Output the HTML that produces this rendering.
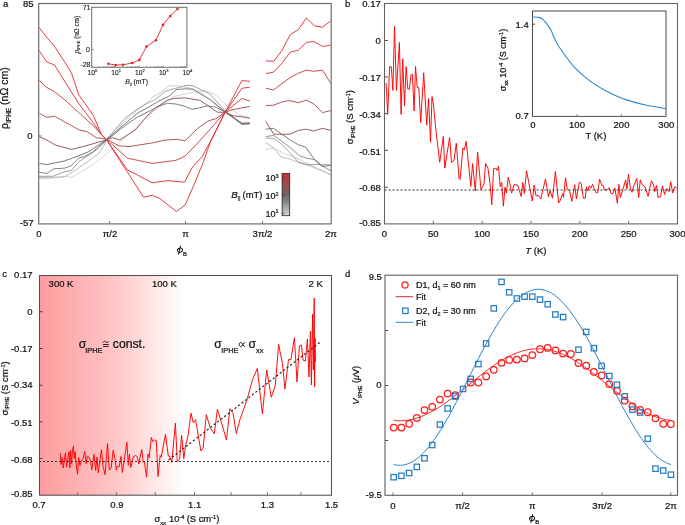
<!DOCTYPE html>
<html><head><meta charset="utf-8"><style>
html,body{margin:0;padding:0;background:#fff;}
body{width:685px;height:525px;overflow:hidden;}
svg{display:block;font-family:"Liberation Sans", sans-serif;}
text{stroke:#111;stroke-width:0.22px;}
.sm text{stroke-width:0.1px;}
#w{will-change:transform;width:685px;height:525px;}
</style></head><body><div id="w">
<svg width="685" height="525" viewBox="0 0 685 525" font-family='"Liberation Sans", sans-serif'>
<defs>
<linearGradient id="cb" x1="0" y1="1" x2="0" y2="0"><stop offset="0" stop-color="#d6d6d6"/><stop offset="0.38" stop-color="#7a7a7a"/><stop offset="0.55" stop-color="#7a5e5e"/><stop offset="1" stop-color="#cc3034"/></linearGradient>
<linearGradient id="pc" gradientUnits="userSpaceOnUse" x1="39" y1="0" x2="184.5" y2="0"><stop offset="0" stop-color="#ff9c9e"/><stop offset="0.5" stop-color="#ffc4c4"/><stop offset="1" stop-color="#ffffff"/></linearGradient>
</defs>
<rect width="685" height="525" fill="#fff"/>
<polyline points="39.0,178.8 49.6,178.5 64.2,176.3 71.5,177.4 86.0,169.0 100.7,158.8 110.9,150.0 137.2,127.0 149.5,114.7 161.9,104.8 174.3,96.1 185.0,94.0 193.8,92.3 202.5,91.0 208.4,91.1 217.1,96.0 227.0,105.9 239.4,115.2 249.9,117.1" fill="none" stroke="#cbcbcb" stroke-width="0.8" stroke-linejoin="round" />
<polyline points="106.0,140.0 112.4,134.5 124.8,120.9 135.9,111.0 144.6,104.8 153.2,96.7 160.7,92.4 168.4,86.1 176.3,85.7 183.3,86.6 192.9,89.0 201.0,93.0 212.2,101.0 225.2,111.5 241.9,122.5 249.9,122.0" fill="none" stroke="#bdbdbd" stroke-width="0.8" stroke-linejoin="round" />
<polyline points="39.0,177.4 64.2,177.0 73.0,171.9 86.0,163.0 99.2,153.0 106.0,142.0" fill="none" stroke="#a8a8a8" stroke-width="0.8" stroke-linejoin="round" />
<polyline points="39.0,176.3 52.5,176.3 64.2,171.9 71.5,170.4 78.8,161.7 96.3,150.0 106.0,141.0" fill="none" stroke="#8a8a8a" stroke-width="0.8" stroke-linejoin="round" />
<polyline points="39.0,172.2 46.7,173.4 54.0,168.7 64.2,168.2 70.8,166.0 78.8,158.0 84.6,156.6 93.4,151.5 106.0,140.0" fill="none" stroke="#6a6a6a" stroke-width="0.8" stroke-linejoin="round" />
<polyline points="39.4,163.4 46.7,164.6 64.2,161.0 78.8,155.8 89.0,151.5 106.0,140.0" fill="none" stroke="#555555" stroke-width="0.8" stroke-linejoin="round" />
<polyline points="106.0,140.0 124.8,118.4 137.2,109.1 145.8,104.1 155.7,99.2 164.4,91.8 169.3,89.9 182.4,86.6 186.8,85.3 192.9,85.7 199.0,88.8 210.0,94.0 225.2,111.0 241.9,124.5 249.9,124.0" fill="none" stroke="#8c8c8c" stroke-width="0.8" stroke-linejoin="round" />
<polyline points="106.0,140.0 137.2,113.4 149.5,106.6 158.8,101.0 168.4,96.6 176.3,89.6 185.0,88.8 192.9,89.2 199.0,93.1 210.0,99.7 225.2,112.0 241.9,123.5 249.9,123.0" fill="none" stroke="#5c5c5c" stroke-width="0.8" stroke-linejoin="round" />
<polyline points="106.0,140.0 112.4,135.7 124.8,125.8 137.2,117.2 149.5,111.0 159.4,106.0 167.5,103.2 176.3,104.1 185.0,106.3 192.0,109.3 199.0,108.0 207.2,105.9 215.9,107.2 225.2,112.1 241.9,124.0 249.9,123.5" fill="none" stroke="#606060" stroke-width="0.8" stroke-linejoin="round" />
<polyline points="265.9,149.4 273.6,147.8 282.2,152.7 298.3,158.9 310.7,165.1 321.9,170.7 330.8,175.0" fill="none" stroke="#c8c8c8" stroke-width="0.8" stroke-linejoin="round" />
<polyline points="265.9,142.8 273.6,147.8 281.0,157.0 289.7,158.9 298.3,162.6 310.7,166.3 321.9,170.7 330.8,174.4" fill="none" stroke="#acacac" stroke-width="0.8" stroke-linejoin="round" />
<polyline points="265.9,138.2 273.6,138.5 282.2,144.7 290.0,153.0 298.3,162.0 307.0,164.5 321.9,164.5 330.8,165.1" fill="none" stroke="#8e8e8e" stroke-width="0.8" stroke-linejoin="round" />
<polyline points="265.9,136.6 273.6,135.4 281.5,141.0 289.7,147.2 299.6,155.8 307.0,158.3 314.4,159.5 321.9,165.7 330.8,170.7" fill="none" stroke="#747474" stroke-width="0.8" stroke-linejoin="round" />
<polyline points="265.9,129.2 273.6,128.3 281.5,134.0 289.7,139.7 298.3,144.7 305.8,147.2 314.4,159.5 321.9,166.3 330.8,165.5" fill="none" stroke="#585858" stroke-width="0.8" stroke-linejoin="round" />
<polyline points="39.4,137.0 45.2,139.2 55.4,145.0 71.5,149.4 86.0,145.8 96.3,142.8 106.0,140.0 112.4,137.6 119.8,140.0 135.9,129.5 145.8,117.2 155.7,107.9 166.9,100.4 174.3,98.3 184.9,97.9 199.8,100.3 208.4,105.9 217.1,112.1 225.2,112.4 233.2,115.8 241.9,116.8 249.9,118.3" fill="none" stroke="#8c4a4a" stroke-width="0.9" stroke-linejoin="round" />
<polyline points="39.4,113.3 46.7,117.3 54.7,116.3 64.2,121.7 78.8,129.7 87.6,131.9 96.3,137.7 106.0,139.0 118.8,145.8 129.0,146.6 152.3,142.9 165.5,140.0 177.1,139.3 185.1,140.7 197.4,128.6 208.1,121.0 215.7,118.7 225.2,112.1 233.2,109.6 241.9,107.8 249.9,106.5" fill="none" stroke="#ac4446" stroke-width="0.9" stroke-linejoin="round" />
<polyline points="39.4,80.4 46.0,87.0 54.0,91.4 64.2,99.4 78.8,112.6 93.4,125.7 101.4,134.5 106.0,139.0 127.5,158.2 152.3,163.4 175.7,160.4 185.2,156.0 200.5,140.0 225.2,112.1 241.9,98.5 249.9,101.0" fill="none" stroke="#c8383a" stroke-width="0.9" stroke-linejoin="round" />
<polyline points="39.0,50.4 46.7,62.0 49.6,63.0 54.7,65.1 60.5,74.6 78.8,103.8 93.4,122.8 101.4,134.5 106.0,139.0 127.5,169.9 152.3,182.8 168.4,180.6 184.5,182.3 192.5,167.0 202.0,156.8 210.0,142.2 225.2,112.1 241.9,88.3 249.9,87.1" fill="none" stroke="#dc2c30" stroke-width="0.9" stroke-linejoin="round" />
<polyline points="39.0,27.4 46.5,37.0 54.7,46.7 64.2,61.3 71.5,73.1 78.8,95.0 86.0,105.0 93.4,115.5 101.4,134.5 106.0,139.0 143.6,197.2 152.3,195.2 159.6,198.4 176.4,211.5 185.2,205.0 193.2,186.7 203.4,161.9 210.0,142.9 225.2,112.1 241.9,80.5 249.9,81.4" fill="none" stroke="#e2262c" stroke-width="0.9" stroke-linejoin="round" />
<polyline points="265.9,121.4 273.6,134.1 282.2,134.4 290.3,134.1 298.3,130.4 306.4,129.2 313.8,131.1 322.5,128.3 330.8,130.4" fill="none" stroke="#8c4a4a" stroke-width="0.9" stroke-linejoin="round" />
<polyline points="265.9,105.5 273.6,105.2 282.2,101.8 289.7,100.6 298.3,102.7 306.4,100.2 313.8,103.9 322.5,112.6 330.8,110.5" fill="none" stroke="#ac4446" stroke-width="0.9" stroke-linejoin="round" />
<polyline points="265.9,88.2 273.6,90.0 281.5,84.0 289.7,77.9 298.3,73.3 306.4,70.1 313.8,71.3 322.5,70.1 330.8,83.5" fill="none" stroke="#c8383a" stroke-width="0.9" stroke-linejoin="round" />
<polyline points="265.9,73.6 273.6,72.1 282.2,63.0 290.3,52.0 298.3,50.2 306.4,42.4 313.8,41.5 322.5,46.4 330.5,45.2" fill="none" stroke="#dc2c30" stroke-width="0.9" stroke-linejoin="round" />
<polyline points="265.9,60.9 273.8,61.3 282.2,50.2 290.3,34.4 298.3,29.7 306.4,18.0 314.4,25.8 322.5,27.2 330.5,21.1" fill="none" stroke="#e2262c" stroke-width="0.9" stroke-linejoin="round" />
<rect x="38.7" y="3.5" width="292.5" height="220.4" fill="none" stroke="#6e6e6e" stroke-width="1.2"/>
<line x1="109.7" y1="223.9" x2="109.7" y2="220.9" stroke="#6e6e6e" stroke-width="1" />
<line x1="185.5" y1="223.9" x2="185.5" y2="220.9" stroke="#6e6e6e" stroke-width="1" />
<line x1="262.5" y1="223.9" x2="262.5" y2="220.9" stroke="#6e6e6e" stroke-width="1" />
<line x1="38.7" y1="136.0" x2="41.7" y2="136.0" stroke="#6e6e6e" stroke-width="1" />
<text x="3.0" y="7.2" font-size="9.5" text-anchor="start" fill="#111" >a</text>
<text x="33.5" y="7.4" font-size="9.5" text-anchor="end" fill="#111" >85</text>
<text x="32.5" y="139.4" font-size="9.5" text-anchor="end" fill="#111" >0</text>
<text x="33.5" y="226.4" font-size="9.5" text-anchor="end" fill="#111" >-57</text>
<text x="39.0" y="236.6" font-size="9.5" text-anchor="middle" fill="#111" >0</text>
<text x="110.0" y="236.6" font-size="9.5" text-anchor="middle" fill="#111" >π/2</text>
<text x="185.5" y="236.6" font-size="9.5" text-anchor="middle" fill="#111" >π</text>
<text x="262.5" y="236.6" font-size="9.5" text-anchor="middle" fill="#111" >3π/2</text>
<text x="331.0" y="236.6" font-size="9.5" text-anchor="middle" fill="#111" >2π</text>
<g fill="none" stroke="#111" stroke-width="1"><ellipse cx="180" cy="250.2" rx="2.55" ry="2.05" transform="rotate(-20 180 250.2)"/><path d="M180.6,245.7 L178.5,254.6"/></g>
<text x="183" y="255.8" font-size="5.8" fill="#111">B</text>
<text transform="translate(7.8,129) rotate(-90)" font-size="10.5" fill="#111">ρ<tspan font-size="6.5" dy="3.6">IPHE</tspan><tspan dy="-3.6"> (nΩ cm)</tspan></text>
<rect x="91.7" y="7.3" width="95.2" height="60.0" fill="#fff" stroke="none"/>
<rect x="91.7" y="7.3" width="95.2" height="60.0" fill="none" stroke="#6e6e6e" stroke-width="1"/>
<line x1="91.7" y1="67.3" x2="91.7" y2="65.1" stroke="#6e6e6e" stroke-width="0.6" />
<line x1="98.8" y1="67.3" x2="98.8" y2="66.1" stroke="#6e6e6e" stroke-width="0.6" />
<line x1="103.0" y1="67.3" x2="103.0" y2="66.1" stroke="#6e6e6e" stroke-width="0.6" />
<line x1="106.0" y1="67.3" x2="106.0" y2="66.1" stroke="#6e6e6e" stroke-width="0.6" />
<line x1="108.3" y1="67.3" x2="108.3" y2="66.1" stroke="#6e6e6e" stroke-width="0.6" />
<line x1="110.2" y1="67.3" x2="110.2" y2="66.1" stroke="#6e6e6e" stroke-width="0.6" />
<line x1="111.8" y1="67.3" x2="111.8" y2="66.1" stroke="#6e6e6e" stroke-width="0.6" />
<line x1="113.1" y1="67.3" x2="113.1" y2="66.1" stroke="#6e6e6e" stroke-width="0.6" />
<line x1="114.4" y1="67.3" x2="114.4" y2="66.1" stroke="#6e6e6e" stroke-width="0.6" />
<line x1="115.5" y1="67.3" x2="115.5" y2="65.1" stroke="#6e6e6e" stroke-width="0.6" />
<line x1="122.6" y1="67.3" x2="122.6" y2="66.1" stroke="#6e6e6e" stroke-width="0.6" />
<line x1="126.8" y1="67.3" x2="126.8" y2="66.1" stroke="#6e6e6e" stroke-width="0.6" />
<line x1="129.7" y1="67.3" x2="129.7" y2="66.1" stroke="#6e6e6e" stroke-width="0.6" />
<line x1="132.1" y1="67.3" x2="132.1" y2="66.1" stroke="#6e6e6e" stroke-width="0.6" />
<line x1="133.9" y1="67.3" x2="133.9" y2="66.1" stroke="#6e6e6e" stroke-width="0.6" />
<line x1="135.5" y1="67.3" x2="135.5" y2="66.1" stroke="#6e6e6e" stroke-width="0.6" />
<line x1="136.9" y1="67.3" x2="136.9" y2="66.1" stroke="#6e6e6e" stroke-width="0.6" />
<line x1="138.1" y1="67.3" x2="138.1" y2="66.1" stroke="#6e6e6e" stroke-width="0.6" />
<line x1="139.2" y1="67.3" x2="139.2" y2="65.1" stroke="#6e6e6e" stroke-width="0.6" />
<line x1="146.3" y1="67.3" x2="146.3" y2="66.1" stroke="#6e6e6e" stroke-width="0.6" />
<line x1="150.5" y1="67.3" x2="150.5" y2="66.1" stroke="#6e6e6e" stroke-width="0.6" />
<line x1="153.5" y1="67.3" x2="153.5" y2="66.1" stroke="#6e6e6e" stroke-width="0.6" />
<line x1="155.8" y1="67.3" x2="155.8" y2="66.1" stroke="#6e6e6e" stroke-width="0.6" />
<line x1="157.7" y1="67.3" x2="157.7" y2="66.1" stroke="#6e6e6e" stroke-width="0.6" />
<line x1="159.3" y1="67.3" x2="159.3" y2="66.1" stroke="#6e6e6e" stroke-width="0.6" />
<line x1="160.6" y1="67.3" x2="160.6" y2="66.1" stroke="#6e6e6e" stroke-width="0.6" />
<line x1="161.9" y1="67.3" x2="161.9" y2="66.1" stroke="#6e6e6e" stroke-width="0.6" />
<line x1="162.9" y1="67.3" x2="162.9" y2="65.1" stroke="#6e6e6e" stroke-width="0.6" />
<line x1="170.1" y1="67.3" x2="170.1" y2="66.1" stroke="#6e6e6e" stroke-width="0.6" />
<line x1="174.3" y1="67.3" x2="174.3" y2="66.1" stroke="#6e6e6e" stroke-width="0.6" />
<line x1="177.2" y1="67.3" x2="177.2" y2="66.1" stroke="#6e6e6e" stroke-width="0.6" />
<line x1="179.6" y1="67.3" x2="179.6" y2="66.1" stroke="#6e6e6e" stroke-width="0.6" />
<line x1="181.4" y1="67.3" x2="181.4" y2="66.1" stroke="#6e6e6e" stroke-width="0.6" />
<line x1="183.0" y1="67.3" x2="183.0" y2="66.1" stroke="#6e6e6e" stroke-width="0.6" />
<line x1="184.4" y1="67.3" x2="184.4" y2="66.1" stroke="#6e6e6e" stroke-width="0.6" />
<line x1="185.6" y1="67.3" x2="185.6" y2="66.1" stroke="#6e6e6e" stroke-width="0.6" />
<line x1="91.7" y1="49.5" x2="93.7" y2="49.5" stroke="#6e6e6e" stroke-width="0.7" />
<polyline points="108.3,63.8 115.7,65.0 123.0,64.8 132.2,63.0 139.4,59.9 146.4,46.6 155.9,40.2 163.0,24.9 170.2,16.0 177.5,8.9" fill="none" stroke="#e0262c" stroke-width="0.9" stroke-linejoin="round" />
<circle cx="108.3" cy="63.8" r="1.3" fill="#e0262c"/>
<circle cx="115.7" cy="65.0" r="1.3" fill="#e0262c"/>
<circle cx="123.0" cy="64.8" r="1.3" fill="#e0262c"/>
<circle cx="132.2" cy="63.0" r="1.3" fill="#e0262c"/>
<circle cx="139.4" cy="59.9" r="1.3" fill="#e0262c"/>
<circle cx="146.4" cy="46.6" r="1.3" fill="#e0262c"/>
<circle cx="155.9" cy="40.2" r="1.3" fill="#e0262c"/>
<circle cx="163.0" cy="24.9" r="1.3" fill="#e0262c"/>
<circle cx="170.2" cy="16.0" r="1.3" fill="#e0262c"/>
<circle cx="177.5" cy="8.9" r="1.3" fill="#e0262c"/>
<g class="sm">
<text x="90.5" y="9.8" font-size="7" text-anchor="end" fill="#111" >71</text>
<text x="89.8" y="52.0" font-size="7" text-anchor="end" fill="#111" >0</text>
<text x="90.5" y="67.1" font-size="7" text-anchor="end" fill="#111" >-28</text>
<text x="92.5" y="75.0" font-size="6.7" text-anchor="middle" fill="#111">10<tspan font-size="4.2" dy="-2.6">0</tspan></text>
<text x="116.2" y="75.0" font-size="6.7" text-anchor="middle" fill="#111">10<tspan font-size="4.2" dy="-2.6">1</tspan></text>
<text x="140.0" y="75.0" font-size="6.7" text-anchor="middle" fill="#111">10<tspan font-size="4.2" dy="-2.6">2</tspan></text>
<text x="163.8" y="75.0" font-size="6.7" text-anchor="middle" fill="#111">10<tspan font-size="4.2" dy="-2.6">3</tspan></text>
<text x="187.5" y="75.0" font-size="6.7" text-anchor="middle" fill="#111">10<tspan font-size="4.2" dy="-2.6">4</tspan></text>
<text font-size="6.9" fill="#111"><tspan x="125.3" y="84.3" font-style="italic">B</tspan><tspan x="129.9" y="86.2" font-size="4.2">‖</tspan><tspan x="133.4" y="84.3">(mT)</tspan></text>
<text transform="translate(78.6,53.6) rotate(-90)" font-size="6.4" fill="#111"><tspan font-style="italic">ρ</tspan><tspan font-size="4" dy="1.3">IPHE</tspan><tspan dy="-1.3"> (nΩ cm)</tspan></text>
</g>
<rect x="282.1" y="173.4" width="7.6" height="42.3" fill="url(#cb)" stroke="#222" stroke-width="0.8"/>
<line x1="282.1" y1="177.3" x2="284.4" y2="177.3" stroke="#222" stroke-width="0.7" />
<line x1="282.1" y1="195.3" x2="284.4" y2="195.3" stroke="#222" stroke-width="0.7" />
<line x1="282.1" y1="213.3" x2="284.4" y2="213.3" stroke="#222" stroke-width="0.7" />
<text x="278.5" y="181.2" font-size="9" text-anchor="end" fill="#111">10<tspan font-size="5.5" dy="-3.3">3</tspan></text>
<text x="278.5" y="198.9" font-size="9" text-anchor="end" fill="#111">10<tspan font-size="5.5" dy="-3.3">2</tspan></text>
<text x="278.5" y="216.5" font-size="9" text-anchor="end" fill="#111">10<tspan font-size="5.5" dy="-3.3">1</tspan></text>
<text font-size="9.4" fill="#111"><tspan x="231.3" y="197.9" font-style="italic" font-size="9.8">B</tspan><tspan x="237.8" y="201.4" font-size="7" fill="#777">‖</tspan><tspan x="242.6" y="197.7">(mT)</tspan></text>
<polyline points="386.1,83.1 387.7,114.4 389.6,66.7 391.3,66.7 392.9,90.3 394.5,26.3 396.4,90.3 399.4,42.5 401.1,114.4 402.7,58.8 404.5,105.7 406.1,66.7 407.8,89.1 409.4,89.1 411.1,74.4 412.4,74.4 414.1,111.1 415.5,66.5 417.2,87.3 418.8,87.6 420.7,122.6 423.7,72.7 426.7,125.1 428.6,98.4 430.5,142.3 432.0,96.5 433.4,104.1 436.2,132.7 439.7,162.3 443.3,136.5 444.8,168.0 449.6,137.5 451.5,162.3 454.0,160.4 456.3,143.2 459.1,178.5 460.1,179.5 462.9,148.0 464.3,149.9 466.2,141.3 470.8,186.4 472.6,163.5 475.3,191.0 477.6,152.1 481.0,189.8 484.0,184.1 485.6,163.5 487.9,168.1 490.0,183.3 491.8,204.7 493.6,168.7 495.8,168.2 497.0,170.4 498.5,166.1 500.2,186.5 501.7,182.4 503.4,206.2 505.0,187.2 506.4,193.1 508.2,177.4 509.7,182.8 511.6,193.1 514.1,184.3 516.0,185.0 517.7,185.0 521.1,196.4 522.8,182.4 524.3,193.5 526.5,170.7 528.7,182.1 532.3,201.1 534.2,185.0 536.0,196.0 538.2,195.3 540.8,198.9 545.5,178.9 548.4,196.7 550.1,190.6 552.5,198.2 555.4,171.6 558.6,202.8 560.1,200.8 562.7,193.5 563.4,197.4 565.6,177.7 567.1,189.1 569.6,190.6 571.8,201.4 574.7,184.7 576.4,198.9 579.3,182.1 581.2,183.3 583.4,198.2 585.2,198.2 586.6,186.8 587.6,190.9 589.4,185.8 590.8,188.2 592.6,184.3 594.1,188.2 596.4,193.1 597.8,192.3 599.6,179.2 601.8,185.3 603.2,185.8 604.0,189.1 606.9,190.1 609.1,187.7 611.3,193.8 613.0,193.5 614.9,188.2 617.4,203.3 618.9,184.3 620.3,197.4 623.0,189.1 625.6,179.9 627.0,189.1 628.5,174.1 630.3,188.0 632.0,192.3 634.3,184.3 636.8,178.5 638.7,197.4 640.2,179.9 642.2,184.7 644.9,186.5 648.1,196.4 651.4,180.7 653.6,185.0 654.8,191.6 656.5,185.3 658.0,197.4 660.6,196.7 662.4,185.8 664.6,194.5 666.8,188.7 669.0,191.6 670.8,181.8 672.6,193.1 674.8,186.8 676.6,188.2" fill="none" stroke="#ff0000" stroke-width="0.95" stroke-linejoin="round" />
<line x1="384.5" y1="190.0" x2="677.5" y2="190.0" stroke="#333" stroke-width="1" stroke-dasharray="2 2"/>
<rect x="384.5" y="3.5" width="293.0" height="220.4" fill="none" stroke="#606060" stroke-width="1.05"/>
<line x1="384.5" y1="40.5" x2="387.9" y2="40.5" stroke="#555" stroke-width="1.05" />
<line x1="384.5" y1="77.0" x2="387.9" y2="77.0" stroke="#555" stroke-width="1.05" />
<line x1="384.5" y1="113.5" x2="387.9" y2="113.5" stroke="#555" stroke-width="1.05" />
<line x1="384.5" y1="150.4" x2="387.9" y2="150.4" stroke="#555" stroke-width="1.05" />
<line x1="384.5" y1="187.3" x2="387.9" y2="187.3" stroke="#555" stroke-width="1.05" />
<line x1="433.3" y1="223.9" x2="433.3" y2="220.9" stroke="#6e6e6e" stroke-width="1" />
<line x1="482.2" y1="223.9" x2="482.2" y2="220.9" stroke="#6e6e6e" stroke-width="1" />
<line x1="531.0" y1="223.9" x2="531.0" y2="220.9" stroke="#6e6e6e" stroke-width="1" />
<line x1="579.8" y1="223.9" x2="579.8" y2="220.9" stroke="#6e6e6e" stroke-width="1" />
<line x1="628.7" y1="223.9" x2="628.7" y2="220.9" stroke="#6e6e6e" stroke-width="1" />
<text x="345.0" y="7.2" font-size="9.5" text-anchor="start" fill="#111" >b</text>
<text x="380.8" y="6.9" font-size="9.5" text-anchor="end" fill="#111" >0.17</text>
<text x="380.8" y="44.3" font-size="9.5" text-anchor="end" fill="#111" >0</text>
<text x="380.8" y="81.0" font-size="9.5" text-anchor="end" fill="#111" >-0.17</text>
<text x="380.8" y="117.7" font-size="9.5" text-anchor="end" fill="#111" >-0.34</text>
<text x="380.8" y="154.5" font-size="9.5" text-anchor="end" fill="#111" >-0.51</text>
<text x="380.8" y="191.2" font-size="9.5" text-anchor="end" fill="#111" >-0.68</text>
<text x="380.8" y="226.0" font-size="9.5" text-anchor="end" fill="#111" >-0.85</text>
<text x="384.5" y="237.0" font-size="9.5" text-anchor="middle" fill="#111" >0</text>
<text x="433.3" y="237.0" font-size="9.5" text-anchor="middle" fill="#111" >50</text>
<text x="482.2" y="237.0" font-size="9.5" text-anchor="middle" fill="#111" >100</text>
<text x="531.0" y="237.0" font-size="9.5" text-anchor="middle" fill="#111" >150</text>
<text x="579.8" y="237.0" font-size="9.5" text-anchor="middle" fill="#111" >200</text>
<text x="628.7" y="237.0" font-size="9.5" text-anchor="middle" fill="#111" >250</text>
<text x="677.5" y="237.0" font-size="9.5" text-anchor="middle" fill="#111" >300</text>
<text x="525.2" y="254.3" font-size="9.6" fill="#111"><tspan font-style="italic">T</tspan> (K)</text>
<text transform="translate(353.4,144.3) rotate(-90)" font-size="9.5" fill="#111">σ<tspan font-size="5.5" dy="1.5">IPHE</tspan><tspan dy="-1.5"> (S cm</tspan><tspan font-size="5.5" dy="-3">-1</tspan><tspan dy="3">)</tspan></text>
<rect x="532.5" y="11.0" width="133.5" height="105.4" fill="none" stroke="#4a4a4a" stroke-width="1"/>
<line x1="532.5" y1="24.2" x2="535.0" y2="24.2" stroke="#4a4a4a" stroke-width="1.0" />
<line x1="577.0" y1="116.4" x2="577.0" y2="113.9" stroke="#6e6e6e" stroke-width="0.8" />
<line x1="621.5" y1="116.4" x2="621.5" y2="113.9" stroke="#6e6e6e" stroke-width="0.8" />
<path d="M533.50,16.90 C534.40,16.98 537.33,16.98 538.90,17.40 C540.47,17.82 541.58,18.33 542.90,19.40 C544.22,20.47 545.48,22.07 546.80,23.80 C548.12,25.53 549.63,27.65 550.80,29.80 C551.97,31.95 552.82,34.48 553.80,36.70 C554.78,38.92 555.38,40.78 556.70,43.10 C558.02,45.42 559.80,47.87 561.70,50.60 C563.60,53.33 565.82,56.55 568.10,59.50 C570.38,62.45 571.82,64.78 575.40,68.30 C578.98,71.82 584.85,77.03 589.60,80.60 C594.35,84.17 599.15,87.00 603.90,89.70 C608.65,92.40 613.37,94.82 618.10,96.80 C622.83,98.78 627.55,100.18 632.30,101.60 C637.05,103.02 640.93,104.12 646.60,105.30 C652.27,106.48 663.02,108.13 666.30,108.70" fill="none" stroke="#2a86cc" stroke-width="1.1"/>
<text x="528.8" y="27.6" font-size="9.5" text-anchor="end" fill="#111" >1.4</text>
<text x="528.8" y="118.7" font-size="9.5" text-anchor="end" fill="#111" >0.7</text>
<text x="532.8" y="127.8" font-size="9.5" text-anchor="middle" fill="#111" >0</text>
<text x="577.0" y="127.8" font-size="9.5" text-anchor="middle" fill="#111" >100</text>
<text x="621.5" y="127.8" font-size="9.5" text-anchor="middle" fill="#111" >200</text>
<text x="666.3" y="127.8" font-size="9.5" text-anchor="middle" fill="#111" >300</text>
<text x="595.9" y="139.2" font-size="9.5" text-anchor="middle" fill="#111" >T (K)</text>
<text transform="translate(506,91.2) rotate(-90)" font-size="9" fill="#111">σ<tspan font-size="5.5" dy="1.5">xx</tspan><tspan dy="-1.5"> 10</tspan><tspan font-size="5.5" dy="-3">-4</tspan><tspan dy="3"> (S cm</tspan><tspan font-size="5.5" dy="-3">-1</tspan><tspan dy="3">)</tspan></text>
<rect x="39.5" y="275.5" width="145.0" height="219.7" fill="url(#pc)"/>
<polyline points="60.3,453.1 61.0,464.5 62.0,457.5 63.3,468.0 64.6,457.5 65.5,452.7 66.6,467.1 68.1,456.6 69.0,451.8 69.9,468.0 70.6,450.5 71.6,463.6 72.5,450.5 73.4,446.1 74.3,458.4 75.1,451.8 76.5,468.0 77.6,474.2 78.6,457.5 80.0,465.4 81.3,461.0 83.0,458.8 84.8,451.4 86.1,463.6 87.4,456.2 89.1,457.5 90.5,460.6 91.8,469.8 94.0,454.4 95.7,470.6 97.0,457.1 98.3,472.8 99.7,461.9 101.4,449.6 103.0,466.3 105.1,474.6 107.5,443.5 109.3,470.2 111.1,468.0 113.2,450.3 114.8,457.7 116.3,470.3 117.4,466.3 119.2,466.9 120.9,456.6 122.4,472.6 124.6,457.7 126.9,442.3 128.3,465.2 129.4,454.3 130.8,467.5 133.4,456.6 135.7,455.5 137.2,456.6 138.8,464.0 140.0,457.7 141.8,449.5 143.2,462.3 144.3,461.2 146.6,477.2 148.0,454.1 149.1,457.7 151.4,437.4 152.9,441.7 154.6,440.0 156.3,440.6 158.0,476.6 160.1,455.5 161.2,457.2 165.5,434.3 168.3,456.0 170.0,456.6 171.8,462.3 175.4,423.2 177.3,461.7 179.6,459.4 181.6,435.4 183.8,458.6 185.7,444.9 188.0,435.8 191.0,413.2 193.3,422.8 195.6,419.7 200.9,451.0 203.2,448.0 206.3,414.7 210.1,427.4 214.3,433.9 217.4,409.1 220.8,420.5 226.5,440.0 229.9,408.6 233.0,412.9 236.3,433.5 240.0,419.3 246.7,400.7 252.7,379.3 257.3,368.4 262.4,414.0 266.7,370.0 271.3,397.3 275.3,385.3 278.6,344.3 282.4,363.4 284.9,389.1 288.5,359.6 291.0,359.6 294.4,337.7 297.0,382.0 299.4,346.0 301.4,345.0 303.0,360.0 305.4,361.0 307.4,339.0 309.0,377.0 310.4,331.0 311.4,385.0 312.6,314.0 313.4,370.0 314.2,298.0 314.6,387.0 315.0,338.0 315.4,362.0" fill="none" stroke="#ff0000" stroke-width="0.95" stroke-linejoin="round" />
<line x1="39.0" y1="461.5" x2="331.5" y2="461.5" stroke="#333" stroke-width="1" stroke-dasharray="2 2"/>
<line x1="168.6" y1="460.0" x2="321.0" y2="341.5" stroke="#222" stroke-width="1.15" stroke-dasharray="2.2 2.2"/>
<rect x="39.5" y="275.5" width="292.0" height="219.7" fill="none" stroke="#505050" stroke-width="1.05"/>
<line x1="39.5" y1="311.7" x2="42.5" y2="311.7" stroke="#444" stroke-width="1.05" />
<line x1="39.5" y1="348.5" x2="42.5" y2="348.5" stroke="#444" stroke-width="1.05" />
<line x1="39.5" y1="385.2" x2="42.5" y2="385.2" stroke="#444" stroke-width="1.05" />
<line x1="39.5" y1="421.8" x2="42.5" y2="421.8" stroke="#444" stroke-width="1.05" />
<line x1="39.5" y1="458.5" x2="42.5" y2="458.5" stroke="#444" stroke-width="1.05" />
<line x1="77.6" y1="495.2" x2="77.6" y2="492.2" stroke="#6e6e6e" stroke-width="1" />
<line x1="116.4" y1="495.2" x2="116.4" y2="492.2" stroke="#6e6e6e" stroke-width="1" />
<line x1="155.3" y1="495.2" x2="155.3" y2="492.2" stroke="#6e6e6e" stroke-width="1" />
<line x1="194.5" y1="495.2" x2="194.5" y2="492.2" stroke="#6e6e6e" stroke-width="1" />
<line x1="231.1" y1="495.2" x2="231.1" y2="492.2" stroke="#6e6e6e" stroke-width="1" />
<line x1="267.4" y1="495.2" x2="267.4" y2="492.2" stroke="#6e6e6e" stroke-width="1" />
<line x1="300.9" y1="495.2" x2="300.9" y2="492.2" stroke="#6e6e6e" stroke-width="1" />
<text x="2.3" y="277.1" font-size="9.5" text-anchor="start" fill="#111" >c</text>
<text x="32.6" y="278.2" font-size="9.5" text-anchor="end" fill="#111" >0.17</text>
<text x="32.6" y="315.3" font-size="9.5" text-anchor="end" fill="#111" >0</text>
<text x="32.6" y="352.2" font-size="9.5" text-anchor="end" fill="#111" >-0.17</text>
<text x="32.6" y="388.4" font-size="9.5" text-anchor="end" fill="#111" >-0.34</text>
<text x="32.6" y="425.7" font-size="9.5" text-anchor="end" fill="#111" >-0.51</text>
<text x="32.6" y="462.9" font-size="9.5" text-anchor="end" fill="#111" >-0.68</text>
<text x="32.6" y="496.9" font-size="9.5" text-anchor="end" fill="#111" >-0.85</text>
<text x="39.0" y="508.3" font-size="9.5" text-anchor="middle" fill="#111" >0.7</text>
<text x="116.9" y="508.3" font-size="9.5" text-anchor="middle" fill="#111" >0.9</text>
<text x="194.6" y="508.3" font-size="9.5" text-anchor="middle" fill="#111" >1.1</text>
<text x="267.4" y="508.3" font-size="9.5" text-anchor="middle" fill="#111" >1.3</text>
<text x="331.5" y="508.3" font-size="9.5" text-anchor="middle" fill="#111" >1.5</text>
<text font-size="9.4" fill="#111"><tspan x="154.6" y="522.2">σ</tspan><tspan x="160.2" y="524.8" font-size="5.8">xx</tspan><tspan x="169" y="522.2">10</tspan><tspan font-size="5.8" dy="-3.4">-4</tspan><tspan x="186.7" y="522.2">(S cm</tspan><tspan font-size="5.8" dy="-3.4">-1</tspan><tspan dy="3.4">)</tspan></text>
<text transform="translate(7.9,415.6) rotate(-90)" font-size="9.5" fill="#111">σ<tspan font-size="5.5" dy="1.5">IPHE</tspan><tspan dy="-1.5"> (S cm</tspan><tspan font-size="5.5" dy="-3">-1</tspan><tspan dy="3">)</tspan></text>
<text x="48.6" y="286.8" font-size="9.5" text-anchor="start" fill="#111" >300 K</text>
<text x="152.0" y="286.6" font-size="9.5" text-anchor="start" fill="#111" >100 K</text>
<text x="308.6" y="286.6" font-size="9.5" text-anchor="start" fill="#111" >2 K</text>
<text font-size="12.2" fill="#111"><tspan x="78.7" y="347.6">σ</tspan><tspan x="85.2" y="352.9" font-size="7.4">IPHE</tspan><tspan x="112.8" y="348">const.</tspan></text>
<path d="M102.9,342.6 C103.5,341.2 104.8,341.1 105.6,341.8 C106.4,342.5 107.8,342.7 108.6,341.4 M103.1,344.5 H108.8 M103.1,346.5 H108.8" fill="none" stroke="#111" stroke-width="0.9"/>
<text font-size="12.2" fill="#111"><tspan x="214.3" y="347.9">σ</tspan><tspan x="221.2" y="352.9" font-size="7.4">IPHE</tspan><tspan x="248.6" y="347.9">σ</tspan><tspan x="256.1" y="352.9" font-size="7.4">xx</tspan></text>
<path d="M244.9,342.5 C243.2,342.5 242.4,346.6 240.7,346.6 C239.8,346.6 239.2,345.6 239.2,344.55 C239.2,343.5 239.8,342.5 240.7,342.5 C242.4,342.5 243.2,346.6 244.9,346.6" fill="none" stroke="#111" stroke-width="0.95"/>
<polyline points="393.7,420.4 395.4,420.6 397.2,420.7 398.9,420.8 400.6,420.7 402.4,420.7 404.1,420.6 405.8,420.4 407.6,420.2 409.3,419.9 411.0,419.6 412.8,419.2 414.5,418.7 416.2,418.2 418.0,417.7 419.7,417.1 421.4,416.4 423.2,415.7 424.9,415.0 426.6,414.2 428.3,413.4 430.1,412.5 431.8,411.6 433.5,410.6 435.3,409.6 437.0,408.6 438.7,407.5 440.5,406.4 442.2,405.2 443.9,404.0 445.7,402.8 447.4,401.6 449.1,400.3 450.9,399.1 452.6,397.7 454.3,396.4 456.1,395.1 457.8,393.7 459.5,392.3 461.3,391.0 463.0,389.6 464.7,388.2 466.5,386.7 468.2,385.3 469.9,383.9 471.7,382.5 473.4,381.1 475.1,379.7 476.9,378.3 478.6,376.9 480.3,375.5 482.1,374.2 483.8,372.8 485.5,371.5 487.3,370.2 489.0,368.9 490.7,367.7 492.5,366.5 494.2,365.3 495.9,364.1 497.6,362.9 499.4,361.8 501.1,360.8 502.8,359.7 504.6,358.7 506.3,357.8 508.0,356.9 509.8,356.0 511.5,355.2 513.2,354.4 515.0,353.7 516.7,353.0 518.4,352.3 520.2,351.8 521.9,351.2 523.6,350.7 525.4,350.3 527.1,349.9 528.8,349.6 530.6,349.3 532.3,349.1 534.0,349.0 535.8,348.9 537.5,348.8 539.2,348.8 541.0,348.9 542.7,349.0 544.4,349.2 546.2,349.4 547.9,349.7 549.6,350.0 551.4,350.4 553.1,350.8 554.8,351.3 556.6,351.9 558.3,352.5 560.0,353.1 561.8,353.8 563.5,354.6 565.2,355.4 567.0,356.2 568.7,357.1 570.4,358.0 572.1,359.0 573.9,360.0 575.6,361.0 577.3,362.1 579.1,363.2 580.8,364.3 582.5,365.5 584.3,366.7 586.0,368.0 587.7,369.2 589.5,370.5 591.2,371.8 592.9,373.1 594.7,374.5 596.4,375.8 598.1,377.2 599.9,378.6 601.6,380.0 603.3,381.4 605.1,382.8 606.8,384.2 608.5,385.6 610.3,387.1 612.0,388.5 613.7,389.9 615.5,391.3 617.2,392.6 618.9,394.0 620.7,395.4 622.4,396.7 624.1,398.0 625.9,399.3 627.6,400.6 629.3,401.9 631.1,403.1 632.8,404.3 634.5,405.5 636.2,406.6 638.0,407.7 639.7,408.8 641.4,409.8 643.2,410.8 644.9,411.8 646.6,412.7 648.4,413.6 650.1,414.4 651.8,415.2 653.6,415.9 655.3,416.6 657.0,417.2 658.8,417.8 660.5,418.3 662.2,418.8 664.0,419.3 665.7,419.6 667.4,420.0 669.2,420.2 670.9,420.4" fill="none" stroke="#ee2428" stroke-width="1.0" stroke-linejoin="round" />
<polyline points="393.7,464.5 395.4,464.9 397.2,465.2 398.9,465.3 400.6,465.3 402.4,465.1 404.1,464.9 405.8,464.4 407.6,463.9 409.3,463.2 411.0,462.4 412.8,461.5 414.5,460.4 416.2,459.2 418.0,457.9 419.7,456.4 421.4,454.8 423.2,453.1 424.9,451.3 426.6,449.4 428.3,447.4 430.1,445.2 431.8,443.0 433.5,440.6 435.3,438.2 437.0,435.6 438.7,433.0 440.5,430.3 442.2,427.5 443.9,424.6 445.7,421.7 447.4,418.6 449.1,415.6 450.9,412.4 452.6,409.2 454.3,406.0 456.1,402.7 457.8,399.4 459.5,396.0 461.3,392.6 463.0,389.2 464.7,385.8 466.5,382.3 468.2,378.9 469.9,375.4 471.7,371.9 473.4,368.5 475.1,365.1 476.9,361.7 478.6,358.3 480.3,354.9 482.1,351.6 483.8,348.3 485.5,345.1 487.3,341.9 489.0,338.7 490.7,335.7 492.5,332.7 494.2,329.7 495.9,326.8 497.6,324.1 499.4,321.3 501.1,318.7 502.8,316.2 504.6,313.7 506.3,311.4 508.0,309.2 509.8,307.0 511.5,305.0 513.2,303.1 515.0,301.3 516.7,299.6 518.4,298.0 520.2,296.6 521.9,295.3 523.6,294.1 525.4,293.0 527.1,292.1 528.8,291.3 530.6,290.6 532.3,290.1 534.0,289.7 535.8,289.4 537.5,289.3 539.2,289.3 541.0,289.5 542.7,289.7 544.4,290.2 546.2,290.7 547.9,291.4 549.6,292.2 551.4,293.1 553.1,294.2 554.8,295.4 556.6,296.7 558.3,298.2 560.0,299.8 561.8,301.5 563.5,303.3 565.2,305.2 567.0,307.2 568.7,309.4 570.4,311.6 572.1,314.0 573.9,316.4 575.6,319.0 577.3,321.6 579.1,324.3 580.8,327.1 582.5,330.0 584.3,332.9 586.0,336.0 587.7,339.0 589.5,342.2 591.2,345.4 592.9,348.6 594.7,351.9 596.4,355.2 598.1,358.6 599.9,362.0 601.6,365.4 603.3,368.8 605.1,372.3 606.8,375.7 608.5,379.2 610.3,382.7 612.0,386.1 613.7,389.5 615.5,392.9 617.2,396.3 618.9,399.7 620.7,403.0 622.4,406.3 624.1,409.5 625.9,412.7 627.6,415.9 629.3,418.9 631.1,421.9 632.8,424.9 634.5,427.8 636.2,430.5 638.0,433.3 639.7,435.9 641.4,438.4 643.2,440.9 644.9,443.2 646.6,445.4 648.4,447.6 650.1,449.6 651.8,451.5 653.6,453.3 655.3,455.0 657.0,456.6 658.8,458.0 660.5,459.3 662.2,460.5 664.0,461.6 665.7,462.5 667.4,463.3 669.2,464.0 670.9,464.5" fill="none" stroke="#2484cc" stroke-width="1.0" stroke-linejoin="round" />
<circle cx="393.7" cy="427.6" r="3.3" fill="none" stroke="#ff1c1c" stroke-width="1.25"/>
<circle cx="401.4" cy="427.6" r="3.3" fill="none" stroke="#ff1c1c" stroke-width="1.25"/>
<circle cx="409.1" cy="423.8" r="3.3" fill="none" stroke="#ff1c1c" stroke-width="1.25"/>
<circle cx="416.8" cy="417.9" r="3.3" fill="none" stroke="#ff1c1c" stroke-width="1.25"/>
<circle cx="424.5" cy="410.1" r="3.3" fill="none" stroke="#ff1c1c" stroke-width="1.25"/>
<circle cx="432.2" cy="406.8" r="3.3" fill="none" stroke="#ff1c1c" stroke-width="1.25"/>
<circle cx="439.9" cy="399.6" r="3.3" fill="none" stroke="#ff1c1c" stroke-width="1.25"/>
<circle cx="447.6" cy="393.6" r="3.3" fill="none" stroke="#ff1c1c" stroke-width="1.25"/>
<circle cx="455.3" cy="395.2" r="3.3" fill="none" stroke="#ff1c1c" stroke-width="1.25"/>
<circle cx="470.7" cy="382.5" r="3.3" fill="none" stroke="#ff1c1c" stroke-width="1.25"/>
<circle cx="478.4" cy="382.5" r="3.3" fill="none" stroke="#ff1c1c" stroke-width="1.25"/>
<circle cx="486.1" cy="376.4" r="3.3" fill="none" stroke="#ff1c1c" stroke-width="1.25"/>
<circle cx="493.8" cy="369.8" r="3.3" fill="none" stroke="#ff1c1c" stroke-width="1.25"/>
<circle cx="501.5" cy="362.8" r="3.3" fill="none" stroke="#ff1c1c" stroke-width="1.25"/>
<circle cx="509.2" cy="359.9" r="3.3" fill="none" stroke="#ff1c1c" stroke-width="1.25"/>
<circle cx="516.9" cy="359.6" r="3.3" fill="none" stroke="#ff1c1c" stroke-width="1.25"/>
<circle cx="524.6" cy="358.4" r="3.3" fill="none" stroke="#ff1c1c" stroke-width="1.25"/>
<circle cx="532.3" cy="355.1" r="3.3" fill="none" stroke="#ff1c1c" stroke-width="1.25"/>
<circle cx="540.0" cy="349.2" r="3.3" fill="none" stroke="#ff1c1c" stroke-width="1.25"/>
<circle cx="547.7" cy="347.9" r="3.3" fill="none" stroke="#ff1c1c" stroke-width="1.25"/>
<circle cx="555.4" cy="350.4" r="3.3" fill="none" stroke="#ff1c1c" stroke-width="1.25"/>
<circle cx="563.1" cy="353.6" r="3.3" fill="none" stroke="#ff1c1c" stroke-width="1.25"/>
<circle cx="570.8" cy="354.0" r="3.3" fill="none" stroke="#ff1c1c" stroke-width="1.25"/>
<circle cx="578.5" cy="363.0" r="3.3" fill="none" stroke="#ff1c1c" stroke-width="1.25"/>
<circle cx="586.2" cy="365.7" r="3.3" fill="none" stroke="#ff1c1c" stroke-width="1.25"/>
<circle cx="593.9" cy="371.8" r="3.3" fill="none" stroke="#ff1c1c" stroke-width="1.25"/>
<circle cx="601.6" cy="375.4" r="3.3" fill="none" stroke="#ff1c1c" stroke-width="1.25"/>
<circle cx="609.3" cy="384.1" r="3.3" fill="none" stroke="#ff1c1c" stroke-width="1.25"/>
<circle cx="617.0" cy="390.8" r="3.3" fill="none" stroke="#ff1c1c" stroke-width="1.25"/>
<circle cx="624.7" cy="400.6" r="3.3" fill="none" stroke="#ff1c1c" stroke-width="1.25"/>
<circle cx="632.4" cy="406.3" r="3.3" fill="none" stroke="#ff1c1c" stroke-width="1.25"/>
<circle cx="640.1" cy="410.0" r="3.3" fill="none" stroke="#ff1c1c" stroke-width="1.25"/>
<circle cx="647.8" cy="412.2" r="3.3" fill="none" stroke="#ff1c1c" stroke-width="1.25"/>
<circle cx="655.5" cy="418.3" r="3.3" fill="none" stroke="#ff1c1c" stroke-width="1.25"/>
<circle cx="663.2" cy="423.8" r="3.3" fill="none" stroke="#ff1c1c" stroke-width="1.25"/>
<circle cx="670.9" cy="424.0" r="3.3" fill="none" stroke="#ff1c1c" stroke-width="1.25"/>
<rect x="391.0" y="474.5" width="5.4" height="5.4" fill="none" stroke="#1f78c4" stroke-width="1.2"/>
<rect x="398.7" y="473.1" width="5.4" height="5.4" fill="none" stroke="#1f78c4" stroke-width="1.2"/>
<rect x="406.4" y="470.3" width="5.4" height="5.4" fill="none" stroke="#1f78c4" stroke-width="1.2"/>
<rect x="414.1" y="464.2" width="5.4" height="5.4" fill="none" stroke="#1f78c4" stroke-width="1.2"/>
<rect x="421.8" y="455.6" width="5.4" height="5.4" fill="none" stroke="#1f78c4" stroke-width="1.2"/>
<rect x="429.5" y="442.3" width="5.4" height="5.4" fill="none" stroke="#1f78c4" stroke-width="1.2"/>
<rect x="437.2" y="421.8" width="5.4" height="5.4" fill="none" stroke="#1f78c4" stroke-width="1.2"/>
<rect x="444.9" y="405.8" width="5.4" height="5.4" fill="none" stroke="#1f78c4" stroke-width="1.2"/>
<rect x="452.6" y="393.8" width="5.4" height="5.4" fill="none" stroke="#1f78c4" stroke-width="1.2"/>
<rect x="460.3" y="386.3" width="5.4" height="5.4" fill="none" stroke="#1f78c4" stroke-width="1.2"/>
<rect x="468.0" y="376.2" width="5.4" height="5.4" fill="none" stroke="#1f78c4" stroke-width="1.2"/>
<rect x="475.7" y="361.4" width="5.4" height="5.4" fill="none" stroke="#1f78c4" stroke-width="1.2"/>
<rect x="483.4" y="340.8" width="5.4" height="5.4" fill="none" stroke="#1f78c4" stroke-width="1.2"/>
<rect x="491.1" y="305.7" width="5.4" height="5.4" fill="none" stroke="#1f78c4" stroke-width="1.2"/>
<rect x="498.8" y="279.2" width="5.4" height="5.4" fill="none" stroke="#1f78c4" stroke-width="1.2"/>
<rect x="506.5" y="289.6" width="5.4" height="5.4" fill="none" stroke="#1f78c4" stroke-width="1.2"/>
<rect x="514.2" y="295.8" width="5.4" height="5.4" fill="none" stroke="#1f78c4" stroke-width="1.2"/>
<rect x="521.9" y="294.0" width="5.4" height="5.4" fill="none" stroke="#1f78c4" stroke-width="1.2"/>
<rect x="529.6" y="294.0" width="5.4" height="5.4" fill="none" stroke="#1f78c4" stroke-width="1.2"/>
<rect x="537.3" y="296.9" width="5.4" height="5.4" fill="none" stroke="#1f78c4" stroke-width="1.2"/>
<rect x="545.0" y="301.5" width="5.4" height="5.4" fill="none" stroke="#1f78c4" stroke-width="1.2"/>
<rect x="552.7" y="311.8" width="5.4" height="5.4" fill="none" stroke="#1f78c4" stroke-width="1.2"/>
<rect x="560.4" y="314.4" width="5.4" height="5.4" fill="none" stroke="#1f78c4" stroke-width="1.2"/>
<rect x="575.8" y="347.0" width="5.4" height="5.4" fill="none" stroke="#1f78c4" stroke-width="1.2"/>
<rect x="583.5" y="329.2" width="5.4" height="5.4" fill="none" stroke="#1f78c4" stroke-width="1.2"/>
<rect x="591.2" y="345.5" width="5.4" height="5.4" fill="none" stroke="#1f78c4" stroke-width="1.2"/>
<rect x="598.9" y="363.1" width="5.4" height="5.4" fill="none" stroke="#1f78c4" stroke-width="1.2"/>
<rect x="606.6" y="373.3" width="5.4" height="5.4" fill="none" stroke="#1f78c4" stroke-width="1.2"/>
<rect x="614.3" y="382.0" width="5.4" height="5.4" fill="none" stroke="#1f78c4" stroke-width="1.2"/>
<rect x="622.0" y="393.7" width="5.4" height="5.4" fill="none" stroke="#1f78c4" stroke-width="1.2"/>
<rect x="629.7" y="406.9" width="5.4" height="5.4" fill="none" stroke="#1f78c4" stroke-width="1.2"/>
<rect x="637.4" y="409.8" width="5.4" height="5.4" fill="none" stroke="#1f78c4" stroke-width="1.2"/>
<rect x="645.1" y="436.0" width="5.4" height="5.4" fill="none" stroke="#1f78c4" stroke-width="1.2"/>
<rect x="652.8" y="466.0" width="5.4" height="5.4" fill="none" stroke="#1f78c4" stroke-width="1.2"/>
<rect x="660.5" y="467.8" width="5.4" height="5.4" fill="none" stroke="#1f78c4" stroke-width="1.2"/>
<rect x="668.2" y="472.0" width="5.4" height="5.4" fill="none" stroke="#1f78c4" stroke-width="1.2"/>
<rect x="385.0" y="275.2" width="292.5" height="220.1" fill="none" stroke="#606060" stroke-width="1.1"/>
<line x1="385.0" y1="330.5" x2="388.2" y2="330.5" stroke="#555" stroke-width="1.05" />
<line x1="385.0" y1="385.5" x2="388.2" y2="385.5" stroke="#555" stroke-width="1.05" />
<line x1="385.0" y1="440.5" x2="388.2" y2="440.5" stroke="#555" stroke-width="1.05" />
<line x1="393.0" y1="495.3" x2="393.0" y2="492.3" stroke="#6e6e6e" stroke-width="1" />
<line x1="462.6" y1="495.3" x2="462.6" y2="492.3" stroke="#6e6e6e" stroke-width="1" />
<line x1="532.3" y1="495.3" x2="532.3" y2="492.3" stroke="#6e6e6e" stroke-width="1" />
<line x1="602.1" y1="495.3" x2="602.1" y2="492.3" stroke="#6e6e6e" stroke-width="1" />
<line x1="670.8" y1="495.3" x2="670.8" y2="492.3" stroke="#6e6e6e" stroke-width="1" />
<text x="345.0" y="276.7" font-size="9.5" text-anchor="start" fill="#111" >d</text>
<text x="381.9" y="279.7" font-size="9.5" text-anchor="end" fill="#111" >9.5</text>
<text x="381.5" y="388.2" font-size="9.5" text-anchor="end" fill="#111" >0</text>
<text x="381.9" y="498.0" font-size="9.5" text-anchor="end" fill="#111" >-9.5</text>
<text x="393.0" y="508.7" font-size="9.5" text-anchor="middle" fill="#111" >0</text>
<text x="462.6" y="508.7" font-size="9.5" text-anchor="middle" fill="#111" >π/2</text>
<text x="532.3" y="508.7" font-size="9.5" text-anchor="middle" fill="#111" >π</text>
<text x="602.1" y="508.7" font-size="9.5" text-anchor="middle" fill="#111" >3π/2</text>
<text x="670.8" y="508.7" font-size="9.5" text-anchor="middle" fill="#111" >2π</text>
<g fill="none" stroke="#111" stroke-width="1"><ellipse cx="532.1" cy="518.5" rx="2.55" ry="2.05" transform="rotate(-20 532.1 518.5)"/><path d="M532.8,514.1 L530.9,523"/></g>
<text x="535.2" y="524.2" font-size="5.8" fill="#111">B</text>
<text transform="translate(359.2,404.4) rotate(-90)" font-size="9" fill="#111"><tspan font-style="italic">V</tspan><tspan font-size="5.5" dy="2.4">IPHE</tspan><tspan dy="-2.4"> (</tspan><tspan font-style="italic">μ</tspan>V)</text>
<circle cx="405" cy="284.9" r="3.1" fill="none" stroke="#ff1c1c" stroke-width="1.2"/>
<line x1="395.6" y1="296.7" x2="413.2" y2="296.7" stroke="#e8262b" stroke-width="1" />
<rect x="402.7" y="308.1" width="5.4" height="5.4" fill="none" stroke="#1f78c4" stroke-width="1.2"/>
<line x1="395.6" y1="322.3" x2="413.2" y2="322.3" stroke="#2a86cc" stroke-width="1" />
<text x="416" y="288.3" font-size="9" fill="#111">D1, d<tspan font-size="5.5" dy="1.5">1</tspan><tspan dy="-1.5"> = 60 nm</tspan></text>
<text x="416.0" y="300.4" font-size="9" text-anchor="start" fill="#111" >Fit</text>
<text x="416" y="314.2" font-size="9" fill="#111">D2, d<tspan font-size="5.5" dy="1.5">2</tspan><tspan dy="-1.5"> = 30 nm</tspan></text>
<text x="416.0" y="325.9" font-size="9" text-anchor="start" fill="#111" >Fit</text>
</svg>
</div></body></html>
